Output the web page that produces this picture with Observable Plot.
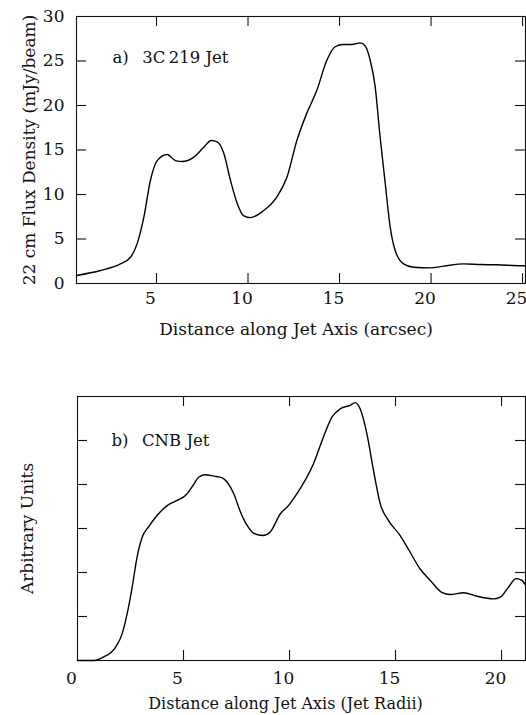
<!DOCTYPE html>
<html>
<head>
<meta charset="utf-8">
<script src="https://cdn.jsdelivr.net/npm/d3@7"></script>
<script src="https://cdn.jsdelivr.net/npm/@observablehq/plot@0.6"></script>
<style>
  html, body { margin: 0; padding: 0; background: #fff; }
  #chart svg { display: block; }
</style>
</head>
<body>
<div id="chart"></div>
<script>
// ---- Panel a) 3C219 Jet ----
const jetADistance = [0.63, 1.94, 3.03, 3.58, 3.94, 4.31, 4.67, 5.04, 5.58, 6.04, 6.4, 7.04, 7.58, 7.99, 8.32, 8.68, 9.04, 9.41, 9.77, 10.13, 10.8, 11.57, 12.12, 12.67, 13.2, 13.76, 14.3, 14.76, 15.2, 15.67, 16.13, 16.4, 16.68, 16.95, 17.2, 17.5, 17.77, 18.04, 18.5, 19.04, 19.96, 20.7, 21.78, 22.69, 23.6, 24.96, 25.16];
const jetAFlux = [0.9, 1.46, 2.2, 2.95, 4.45, 7.45, 11.6, 13.8, 14.5, 13.8, 13.7, 14.2, 15.3, 16.07, 15.9, 14.6, 11.6, 9.0, 7.6, 7.4, 8.1, 9.7, 11.9, 16.07, 19.07, 21.7, 25.05, 26.6, 26.85, 26.85, 27.04, 26.7, 25.06, 22.06, 16.8, 11.2, 6.3, 3.7, 2.2, 1.83, 1.76, 1.95, 2.2, 2.13, 2.1, 2.0, 2.0];
const jetAXTicks = [5, 10, 15, 20, 25];
const jetAYTicks = [0, 5, 10, 15, 20, 25, 30];
const jetAInnerYTicks = [5, 10, 15, 20, 25];
const jetATitle = "a)\u2002 3C\u2009219 Jet";
const jetAXLabel = "Distance along Jet Axis (arcsec)";
const jetAYLabel = "22 cm Flux Density (mJy/beam)";

// ---- Panel b) CNB Jet ----
const jetBDistance = [0, 0.77, 1.24, 1.79, 2.1, 2.34, 2.58, 2.81, 3.05, 3.37, 3.76, 4.23, 4.7, 5.09, 5.41, 5.73, 6.04, 6.43, 6.83, 7.06, 7.37, 7.69, 8.0, 8.32, 8.75, 9.09, 9.56, 9.95, 10.35, 11.13, 11.6, 12.0, 12.39, 12.86, 13.1, 13.33, 13.65, 13.96, 14.28, 14.67, 15.22, 15.69, 16.16, 16.64, 17.18, 17.58, 18.21, 18.84, 19.62, 19.94, 20.33, 20.69, 20.96, 21.13];
const jetBUnits = [0, 0, 0.08, 0.3, 0.6, 1.06, 1.67, 2.35, 2.8, 3.05, 3.3, 3.52, 3.64, 3.75, 3.95, 4.17, 4.22, 4.19, 4.15, 4.05, 3.79, 3.37, 3.07, 2.89, 2.84, 2.92, 3.33, 3.52, 3.79, 4.47, 5.08, 5.53, 5.72, 5.8, 5.86, 5.72, 5.15, 4.32, 3.56, 3.18, 2.84, 2.46, 2.08, 1.82, 1.55, 1.5, 1.54, 1.46, 1.4, 1.44, 1.67, 1.86, 1.82, 1.72];
const jetBXTicks = [0, 5, 10, 15, 20];
const jetBInnerXTicks = [5, 10, 15, 20];
const jetBYTicks = [1, 2, 3, 4, 5];
const jetBTitle = "b)\u2002 CNB Jet";
const jetBXLabel = "Distance along Jet Axis (Jet Radii)";
const jetBYLabel = "Arbitrary Units";

const FONT = "'DejaVu Serif', 'Liberation Serif', serif";
const W = 526;
const TICK = 10;

function panel({xs, ys, xDomain, yDomain, xTicks, innerXTicks, yTicks, innerYTicks, yTickLabels,
                title, xLabel, yLabel, height, mt, mb, ml, mr, tickLabelDy, xLabelDy, xLabelDx, xLabelSize,
                yLabelDx, titleDx, titleDy}) {
  const pw = W - ml - mr;
  const ph = height - mt - mb;
  const rows = xs.map((x, i) => ({x, y: ys[i]}));
  const marks = [
    Plot.frame({stroke: "#111", strokeWidth: 1.1}),
    Plot.tickX(innerXTicks, {x: d => d, insetTop: ph - TICK, stroke: "#111", strokeWidth: 1.1}),
    Plot.tickX(innerXTicks, {x: d => d, insetBottom: ph - TICK, stroke: "#111", strokeWidth: 1.1}),
    Plot.tickY(innerYTicks, {y: d => d, insetRight: pw - TICK, stroke: "#111", strokeWidth: 1.1}),
    Plot.tickY(innerYTicks, {y: d => d, insetLeft: pw - TICK, stroke: "#111", strokeWidth: 1.1}),
    Plot.line(rows, {x: "x", y: "y", curve: "monotone-x", stroke: "#000", strokeWidth: 1.4}),
    Plot.text(xTicks, {x: d => d, frameAnchor: "bottom", lineAnchor: "middle", dy: tickLabelDy, dx: -6, fontSize: 17, fill: "#111"}),
    Plot.text([title], {frameAnchor: "top-left", textAnchor: "start", lineAnchor: "middle", dx: titleDx, dy: titleDy, fontSize: 16.5, fill: "#111"}),
    Plot.text([xLabel], {frameAnchor: "bottom", textAnchor: "middle", lineAnchor: "middle", dy: xLabelDy, dx: xLabelDx, fontSize: xLabelSize, fill: "#111"}),
    Plot.text([yLabel], {frameAnchor: "left", textAnchor: "middle", rotate: -90, lineAnchor: "middle", dx: yLabelDx, fontSize: 17, fill: "#111"})
  ];
  if (yTickLabels) {
    marks.push(Plot.text(yTickLabels, {y: d => d, frameAnchor: "left", textAnchor: "end", dx: -12, fontSize: 17, fill: "#111"}));
  }
  return Plot.plot({
    width: W,
    height,
    marginTop: mt,
    marginBottom: mb,
    marginLeft: ml,
    marginRight: mr,
    style: {fontFamily: FONT, fontSize: "17px", background: "#fff", color: "#111", overflow: "visible"},
    x: {domain: xDomain, axis: null},
    y: {domain: yDomain, axis: null},
    marks
  });
}

const panelA = panel({
  xs: jetADistance, ys: jetAFlux,
  xDomain: [0.63, 25.16], yDomain: [0, 30],
  xTicks: jetAXTicks, innerXTicks: jetAXTicks,
  yTicks: jetAYTicks, innerYTicks: jetAInnerYTicks, yTickLabels: jetAYTicks,
  title: jetATitle, xLabel: jetAXLabel, yLabel: jetAYLabel,
  height: 350, mt: 16, mb: 67, ml: 76, mr: 1,
  tickLabelDy: 15, xLabelDy: 46, xLabelDx: -5, xLabelSize: 17, yLabelDx: -47, titleDx: 36, titleDy: 41
});

const panelB = panel({
  xs: jetBDistance, ys: jetBUnits,
  xDomain: [0, 21.13], yDomain: [0, 6],
  xTicks: jetBXTicks, innerXTicks: jetBInnerXTicks,
  yTicks: jetBYTicks, innerYTicks: jetBYTicks, yTickLabels: null,
  title: jetBTitle, xLabel: jetBXLabel, yLabel: jetBYLabel,
  height: 365, mt: 46, mb: 55, ml: 77, mr: 1,
  tickLabelDy: 18, xLabelDy: 43, xLabelDx: -16, xLabelSize: 16, yLabelDx: -50, titleDx: 34, titleDy: 44
});

const el = document.getElementById("chart");
el.appendChild(panelA);
el.appendChild(panelB);
</script>
</body>
</html>
